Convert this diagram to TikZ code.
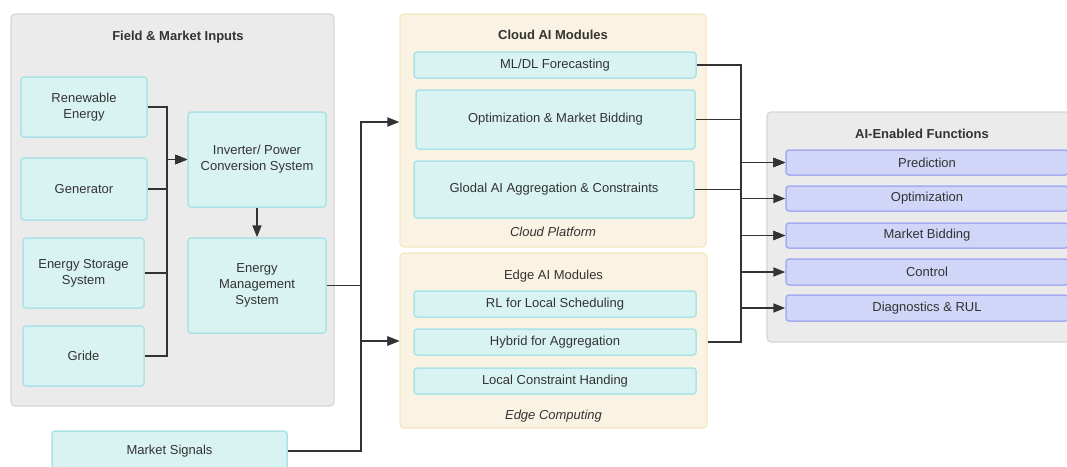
\documentclass[tikz,border=0pt]{standalone}
\usepackage{fontspec}
\setmainfont{Liberation Sans}
\usepackage{tikz}
\usetikzlibrary{arrows.meta}

\definecolor{txt}{HTML}{333333}
\definecolor{panelfill}{HTML}{EBEBEB}
\definecolor{panelline}{HTML}{D6D6D6}
\definecolor{boxfill}{HTML}{D9F3F2}
\definecolor{boxline}{HTML}{ABE3E6}
\definecolor{creamfill}{HTML}{FAF3E4}
\definecolor{creamline}{HTML}{F5E6BF}
\definecolor{funcfill}{HTML}{D1D5F7}
\definecolor{funcline}{HTML}{A5ACF0}

\newcommand{\labelfont}{\fontsize{13}{16}\selectfont}

\tikzset{
  panel/.style={draw=panelline, fill=panelfill, line width=1.2pt, rounded corners=4pt, inner sep=0pt},
  cream/.style={draw=creamline, fill=creamfill, line width=1.2pt, rounded corners=4pt, inner sep=0pt},
  mod/.style={draw=boxline, fill=boxfill, line width=1.5pt, rounded corners=3pt, align=center, text=txt, inner sep=0pt},
  func/.style={draw=funcline, fill=funcfill, line width=1.5pt, rounded corners=3pt, align=center, text=txt, inner sep=0pt},
  ttl/.style={text=txt, font=\labelfont\bfseries},
  note/.style={text=txt, font=\labelfont\itshape},
  link/.style={draw=txt, line width=1.8pt},
  arr/.style={link, -{Triangle[length=12pt,width=9pt]}}
}

\begin{document}
\begin{tikzpicture}[x=1pt, y=-1pt, font=\labelfont]
\useasboundingbox (0,0) rectangle (1067,466);
% panels
\node [panel, minimum width=323, minimum height=392] (inputs) at (172.5,210) {};
\node [ttl] at (178,37) {Field \& Market Inputs};
\node [cream, minimum width=306, minimum height=233] (cloud) at (553,130.5) {};
\node [ttl] at (553,35) {Cloud AI Modules};
\node [note] at (553,232) {Cloud Platform};
\node [cream, minimum width=307, minimum height=175] (edge) at (553.5,340.5) {};
\node [text=txt] at (553.5,276) {Edge AI Modules};
\node [note] at (553.5,416) {Edge Computing};
\node [panel, minimum width=313, minimum height=230] (funcs) at (923.5,227) {};
\node [ttl] at (922,134) {AI-Enabled Functions};
% field inputs
\node [mod, minimum width=126, minimum height=60] (ren) at (84,107) {Renewable\\Energy};
\node [mod, minimum width=126, minimum height=62] (gen) at (84,189) {Generator};
\node [mod, minimum width=121, minimum height=70] (ess) at (83.5,273) {Energy Storage\\System};
\node [mod, minimum width=121, minimum height=60] (gride) at (83.5,356) {Gride};
\node [mod, minimum width=138, minimum height=95] (inv) at (257,159.5) {Inverter/ Power\\Conversion System};
\node [mod, minimum width=138, minimum height=95] (ems) at (257,285.5) {Energy\\Management\\System};
\node [mod, minimum width=235, minimum height=40] (mkt) at (169.5,451) {Market Signals};
% cloud modules
\node [mod, minimum width=282, minimum height=26] (ml) at (555,65) {ML/DL Forecasting};
\node [mod, minimum width=279, minimum height=59] (opt) at (555.5,119.5) {Optimization \& Market Bidding};
\node [mod, minimum width=280, minimum height=57] (glo) at (554,189.5) {Glodal AI Aggregation \& Constraints};
% edge modules
\node [mod, minimum width=282, minimum height=26] (rl) at (555,304) {RL for Local Scheduling};
\node [mod, minimum width=282, minimum height=26] (hyb) at (555,342) {Hybrid for Aggregation};
\node [mod, minimum width=282, minimum height=26] (loc) at (555,381) {Local Constraint Handing};
% functions
\node [func, minimum width=282, minimum height=25] (pred) at (927,162.5) {Prediction};
\node [func, minimum width=282, minimum height=25] (optf) at (927,198.5) {Optimization};
\node [func, minimum width=282, minimum height=25] (bid) at (927,235.5) {Market Bidding};
\node [func, minimum width=282, minimum height=26] (ctrl) at (927,272) {Control};
\node [func, minimum width=282, minimum height=26] (diag) at (927,308) {Diagnostics \& RUL};
% junctions
\coordinate (jin) at (167,159.5);
\coordinate (jc) at (361,122);
\coordinate (jl) at (361,341);
\coordinate (jr) at (741,0);
% connectors
\draw [arr] (ren.east) -| (jin) -- (inv.west);
\draw [arr] (gen.east) -| (jin) -- (inv.west);
\draw [arr] (ess.east) -| (jin) -- (inv.west);
\draw [arr] (gride.east) -| (jin) -- (inv.west);
\draw [arr] (inv.south) -- (ems.north);
\draw [arr] (ems.east) -| (jc) -- (cloud.west |- jc);
\draw [arr] (ems.east) -| (jl) -- (edge.west |- jl);
\draw [arr] (mkt.east) -| (jl) -- (edge.west |- jl);
\draw [arr] (ml.east) -| (jr |- pred.west) -- (pred.west);
\draw [arr] (opt.east) -| (jr |- optf.west) -- (optf.west);
\draw [arr] (opt.east) -| (jr |- bid.west) -- (bid.west);
\draw [arr] (glo.east) -| (jr |- pred.west) -- (pred.west);
\draw [arr] (glo.east) -| (jr |- bid.west) -- (bid.west);
\draw [arr] (edge.east |- hyb) -| (jr |- pred.west) -- (pred.west);
\draw [arr] (edge.east |- hyb) -| (jr |- ctrl.west) -- (ctrl.west);
\draw [arr] (edge.east |- hyb) -| (jr |- diag.west) -- (diag.west);
\end{tikzpicture}
\end{document}
